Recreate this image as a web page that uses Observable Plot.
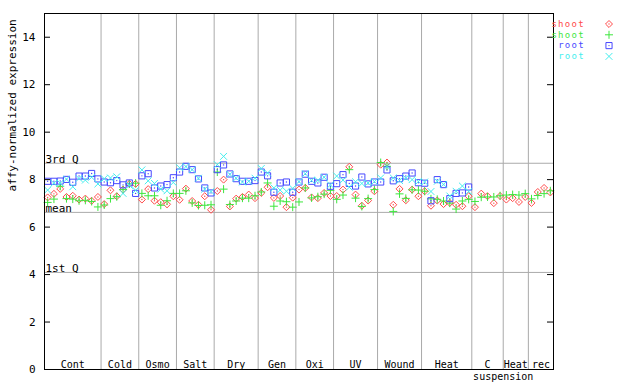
<!DOCTYPE html>
<html><head><meta charset="utf-8">
<script src="https://cdn.jsdelivr.net/npm/d3@7"></script>
<script src="https://cdn.jsdelivr.net/npm/@observablehq/plot@0.6"></script>
<style>
body{margin:0;background:#fff;}
#chart{position:relative;width:640px;height:384px;}
</style></head><body><div id="chart"></div>
<script>
// ---- data ----
const groupNames = ["Cont","Cold","Osmo","Salt","Dry","Gen","Oxi","UV","Wound","Heat","C suspension","Heat","rec"];
const groupSizes = [9,6,6,6,7,6,6,7,7,8,5,4,4];

const shootRed = [
  7.25,7.40,7.61,7.27,7.32,7.16,7.20,7.11,7.27,
  6.97,7.55,7.30,7.58,7.82,7.82,
  7.16,7.60,7.11,7.05,6.96,7.30,
  7.15,7.62,7.10,6.94,7.30,6.73,
  7.52,8.00,6.87,7.20,7.27,7.37,7.22,
  7.44,7.68,7.23,7.31,6.84,7.24,
  7.58,7.65,7.25,7.22,7.44,7.31,
  7.31,7.58,8.54,7.37,6.90,7.12,7.51,
  8.63,8.72,6.94,7.61,7.13,7.58,7.30,
  7.51,6.90,7.12,6.97,7.02,6.94,6.88,7.30,
  6.84,7.41,7.30,7.01,7.31,
  7.16,7.22,7.06,7.27,
  7.02,7.48,7.65,7.46
];
const shootGreen = [
  7.04,7.18,7.72,7.20,7.18,7.11,7.13,7.08,6.85,
  6.93,7.20,7.28,7.58,7.82,7.85,
  7.42,7.32,7.32,6.92,7.11,7.42,
  7.42,7.53,7.02,6.91,6.92,6.94,
  8.32,7.60,6.95,7.10,7.22,7.22,7.32,
  7.48,7.86,6.88,7.10,7.07,6.84,
  7.06,7.65,7.23,7.28,7.39,7.55,
  7.17,7.35,8.42,7.22,6.87,7.20,7.58,
  8.72,8.56,6.66,7.40,7.21,7.57,7.56,
  7.51,7.19,7.17,7.10,7.01,6.76,7.10,7.17,
  7.08,7.26,7.27,7.27,7.32,
  7.35,7.37,7.35,7.41,
  7.19,7.33,7.41,7.53
];
const rootBlue = [
  7.93,7.93,7.94,8.01,7.89,8.15,8.15,8.26,8.03,
  7.90,7.87,7.96,7.78,7.86,7.42,
  8.16,8.25,7.65,7.73,7.79,8.08,
  8.32,8.56,8.42,8.03,7.65,7.44,
  8.42,8.62,8.24,8.04,7.93,7.93,7.96,
  8.32,8.16,7.47,7.86,7.90,7.47,
  7.90,8.23,7.93,7.86,8.10,7.72,
  7.83,8.21,7.84,7.73,8.11,7.82,7.90,
  7.90,8.41,7.95,8.04,8.15,8.28,7.87,
  7.85,7.11,8.00,7.79,7.20,7.42,7.44,7.69
];
const rootCyan = [
  7.56,7.85,7.85,8.02,7.70,8.05,7.98,8.10,7.82,
  8.04,8.07,8.12,7.42,7.76,7.55,
  8.41,7.95,7.84,7.60,7.53,7.88,
  8.50,8.55,8.42,8.06,7.60,7.50,
  8.63,8.98,8.22,8.06,7.90,7.93,8.06,
  8.47,8.28,7.65,7.56,7.51,7.63,
  7.92,8.25,7.97,7.97,8.10,7.78,
  8.15,7.98,7.68,7.91,7.84,7.86,7.92,
  8.07,8.55,8.07,7.96,8.07,8.00,7.92,
  7.90,7.50,7.93,7.80,7.31,7.51,7.73,7.50
];
const refValues = [8.69, 6.62, 4.09];
const refLabels = ["3rd Q", "mean", "1st Q"];
const yTicks = [0,2,4,6,8,10,12,14];
const yLabel = "affy-normalized expression";
const seriesNames = ["shoot","shoot","root","root"];

// ---- build ----
const FONT = "'DejaVu Sans Mono', monospace";
const starts = []; let acc = 0;
for (const s of groupSizes) { starts.push(acc); acc += s; }
const n = acc;
const separators = starts.slice(1).map(s => s - 0.5);
const groups = groupNames.map((name, i) => {
  const parts = name.split(" ");
  return {first: parts[0], rest: parts.slice(1).join(" "),
    center: starts[i] + (groupSizes[i] - 1) / 2, end: starts[i] + groupSizes[i] - 0.5};
});
const subLabels = groups.filter(g => g.rest);

const series = [
  {name: seriesNames[0], color: "#ff4a4a", values: shootRed, symbol: "diamond2", r: 3.15, dot: true},
  {name: seriesNames[1], color: "#3ee63e", values: shootGreen, symbol: "plus", r: 2.7, dot: false},
  {name: seriesNames[2], color: "#4848ff", values: rootBlue, symbol: "square2", r: 3.9, dot: true},
  {name: seriesNames[3], color: "#44eeee", values: rootCyan, symbol: "times", r: 3.2, dot: false}
];

const pointMarks = series.flatMap(s => {
  const pts = s.values.map((v, i) => ({i, v}));
  const m = [Plot.dot(pts, {x: "i", y: "v", symbol: s.symbol, r: s.r, stroke: s.color, strokeWidth: 1, fill: "none"})];
  if (s.dot) m.push(Plot.dot(pts, {x: "i", y: "v", r: 0.7, fill: s.color, stroke: "none"}));
  return m;
});

const plot = Plot.plot({
  width: 640, height: 384,
  marginLeft: 44, marginRight: 87, marginTop: 13, marginBottom: 15,
  style: `font-family:${FONT};font-size:11px;background:white;overflow:visible;color:black;`,
  x: {domain: [-0.5, n - 0.5], axis: null},
  y: {domain: [0, 15], axis: null},
  marks: [
    Plot.ruleX(separators, {stroke: "#aaaaaa", strokeWidth: 1}),
    Plot.ruleY(refValues, {stroke: "#aaaaaa", strokeWidth: 1}),
    Plot.text(refLabels.map((t, k) => ({t, v: refValues[k]})), {
      y: "v", text: "t", frameAnchor: "left", textAnchor: "start", lineAnchor: "bottom", dx: 1, dy: 0, fill: "black"}),
    ...pointMarks,
    Plot.text(groups, {x: "center", text: "first", frameAnchor: "bottom", lineAnchor: "bottom", dy: -2, fill: "black",
      fontSize: 10, style: "letter-spacing:0.8px"}),
    Plot.text(subLabels, {x: "end", text: "rest", frameAnchor: "bottom", lineAnchor: "top", dy: 3, fill: "black",
      fontSize: 10}),
    Plot.tickY(yTicks, {y: d => d, stroke: "black", insetRight: 503}),
    Plot.tickY(yTicks, {y: d => d, stroke: "black", insetLeft: 503}),
    Plot.axisY({ticks: yTicks, anchor: "left", tickSize: 0, tickPadding: 9, label: null, tickFormat: d => String(d), fill: "black"}),
    Plot.text([yLabel], {text: d => d, frameAnchor: "left", rotate: -90, dx: -32, fill: "black"}),
    Plot.frame({stroke: "black", strokeWidth: 1})
  ]
});
document.getElementById("chart").appendChild(plot);
// letter spacing for bottom labels (monospace cell width like the original)
d3.select(plot).selectAll("g[aria-label='text'] text").filter(function(){return this.getAttribute("font-size")==="10";})
  .attr("letter-spacing", "0.8px");

// ---- legend (right margin) ----
const svg = d3.select(plot);
const lg = svg.append("g").attr("font-family", FONT).attr("font-size", 9).attr("letter-spacing", "1.3px");
const symMap = {diamond2: d3.symbolDiamond2, plus: d3.symbolPlus, square2: d3.symbolSquare2, times: d3.symbolTimes};
series.forEach((s, k) => {
  const cy = 24 + k * 10.8;
  lg.append("text").attr("x", 585).attr("y", cy).attr("dy", "0.32em")
    .attr("text-anchor", "end").attr("fill", s.color).text(s.name);
  lg.append("path").attr("transform", `translate(609,${cy})`)
    .attr("d", d3.symbol(symMap[s.symbol], Math.PI * s.r * s.r)())
    .attr("fill", "none").attr("stroke", s.color);
  if (s.dot) lg.append("circle").attr("cx", 609).attr("cy", cy).attr("r", 0.7).attr("fill", s.color);
});
</script></body></html>
